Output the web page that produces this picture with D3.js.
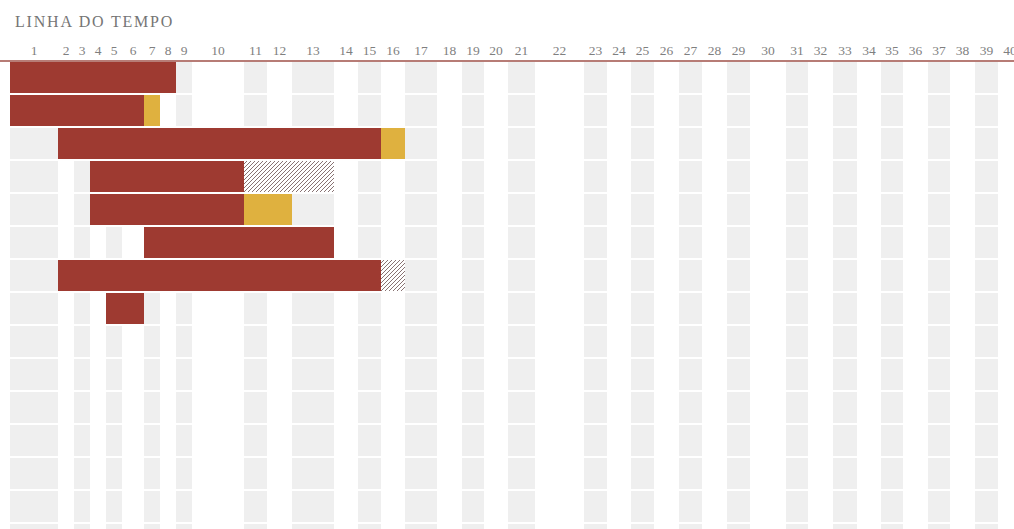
<!DOCTYPE html>
<html>
<head>
<meta charset="utf-8">
<script src="https://cdn.jsdelivr.net/npm/d3@7"></script>
<style>
  html, body { margin: 0; padding: 0; background: #fff; }
  svg { display: block; }
</style>
</head>
<body>
<svg id="chart" width="1014" height="529"></svg>
<script>
// ---- data ----
const title = "LINHA DO TEMPO";
const periods = d3.range(1, 41);                      // tick labels 1..40
const tasks = [1, 2, 3, 4, 5, 6, 7, 8];
const taskStart = [1, 1, 2, 4, 4, 7, 2, 5];
const taskEnd   = [8, 6, 15, 10, 10, 13, 15, 6];
const extKind   = [null, "delay", "delay", "forecast", "delay", null, "forecast", null];
const extEnd    = [null, 7, 16, 13, 12, null, 16, null];
const rowCount = 15;

// ---- layout (spreadsheet-like column edges, periods 1..41) ----
const columnEdges = [10, 58, 74, 90, 106, 122, 144, 160, 176, 192, 244, 267, 292, 334, 358, 381,
  405, 437, 462, 484, 508, 535, 584, 607, 631, 654, 679, 702, 727, 750, 786, 808, 833, 857, 881,
  903, 928, 950, 975, 998, 1022];

const W = 1014, H = 529;
const gridTop = 61, rowH = 33;
const colors = { bar: "#9e3a31", delay: "#dfb13f", grid: "#efefef", line: "#9f5049",
                 text: "#7f7f7f", title: "#757575", hatch: "#7a6262" };

const svg = d3.select("#chart");

const x = d3.scaleLinear().domain(d3.range(1, 42)).range(columnEdges);
const y = d3.scaleBand().domain(d3.range(rowCount)).range([gridTop, gridTop + rowH * rowCount]);

// hatch pattern
const defs = svg.append("defs");
const pat = defs.append("pattern").attr("id", "hatch").attr("patternUnits", "userSpaceOnUse")
  .attr("width", 4).attr("height", 4);
pat.append("rect").attr("width", 4).attr("height", 4).attr("fill", "#fff");
pat.append("path").attr("d", "M-1,1 l2,-2 M0,4 l4,-4 M3,5 l2,-2")
  .attr("stroke", colors.hatch).attr("stroke-width", 0.9);

// column shading (odd periods gray)
const grid = svg.append("g");
const cells = [];
periods.filter(p => p % 2 === 1).forEach(p => {
  d3.range(rowCount).forEach(r => cells.push({ p, r }));
});
grid.selectAll("rect").data(cells).join("rect")
  .attr("x", d => x(d.p))
  .attr("width", d => x(d.p + 1) - x(d.p))
  .attr("y", d => y(d.r) + 1)
  .attr("height", rowH - 2)
  .attr("fill", colors.grid);

// title
svg.append("text").attr("x", 15).attr("y", 27).text(title)
  .attr("font-family", "Liberation Serif, DejaVu Serif, serif")
  .attr("font-size", 16).attr("letter-spacing", 1.8).attr("fill", colors.title);

// period labels at top
const axisG = svg.append("g").attr("transform", `translate(0,${gridTop})`);
axisG.selectAll("text").data(periods).join("text")
  .attr("x", p => (x(p) + x(p + 1)) / 2)
  .attr("y", -6)
  .attr("text-anchor", "middle")
  .attr("font-family", "Liberation Serif, DejaVu Serif, serif")
  .attr("font-size", 13.5)
  .attr("fill", colors.text)
  .text(p => p);
axisG.append("line").attr("x1", 0).attr("x2", W).attr("y1", 0).attr("y2", 0)
  .attr("stroke", colors.line).attr("stroke-width", 1.5);

// bars
const barsG = svg.append("g");
barsG.selectAll("rect.main").data(tasks).join("rect").attr("class", "main")
  .attr("x", (t, i) => x(taskStart[i]))
  .attr("width", (t, i) => x(taskEnd[i] + 1) - x(taskStart[i]))
  .attr("y", (t, i) => y(i) + 1)
  .attr("height", rowH - 2)
  .attr("fill", colors.bar);

const ext = tasks.map((t, i) => ({ i, kind: extKind[i], s: taskEnd[i] + 1, e: extEnd[i] }))
  .filter(d => d.kind);
barsG.selectAll("rect.ext").data(ext).join("rect").attr("class", "ext")
  .attr("x", d => x(d.s))
  .attr("width", d => x(d.e + 1) - x(d.s))
  .attr("y", d => y(d.i) + 1)
  .attr("height", rowH - 2)
  .attr("fill", d => d.kind === "delay" ? colors.delay : "url(#hatch)");
</script>
</body>
</html>
